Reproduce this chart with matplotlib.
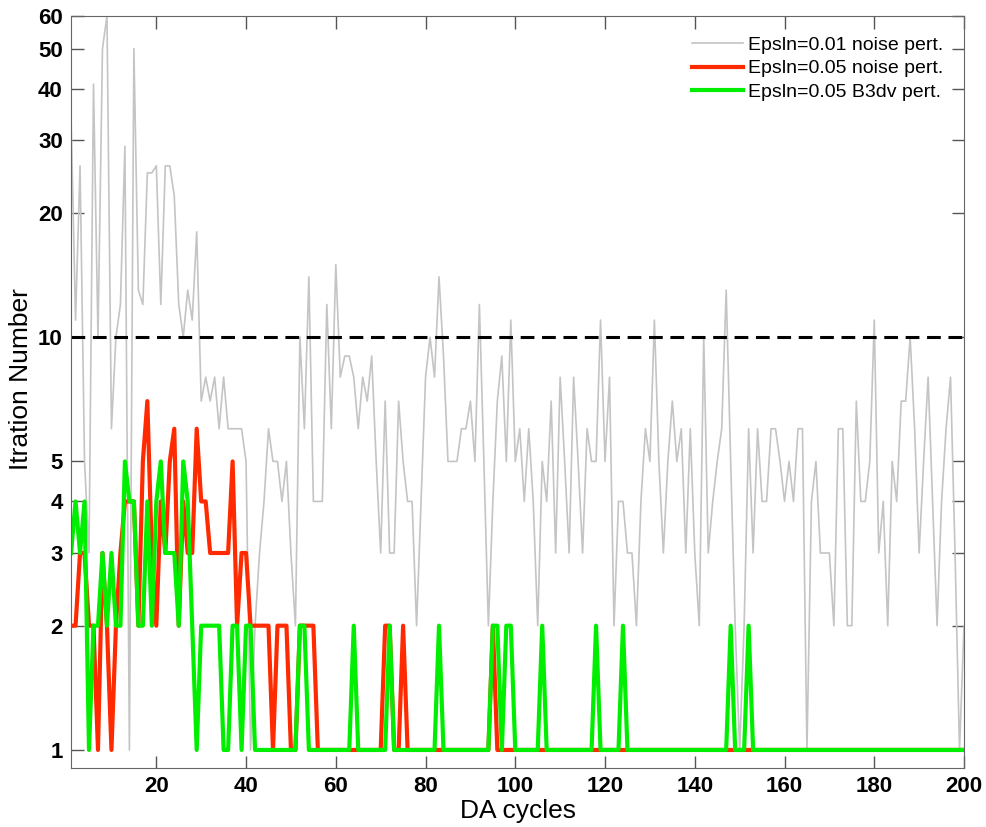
import matplotlib
matplotlib.use('Agg')
import matplotlib.pyplot as plt
import numpy as np

plt.rcParams['font.family'] = ['Liberation Sans', 'DejaVu Sans']

cycles = np.arange(1, 201)

# EpsIn=0.01 noise perturbation (gray)
iters_001_noise = [
    34, 11, 26, 5, 3, 41, 10, 50, 60, 6,
    10, 12, 29, 1, 50, 13, 12, 25, 25, 26,
    12, 26, 26, 22, 12, 10, 13, 11, 18, 7,
    8, 7, 8, 6, 8, 6, 6, 6, 6, 5,
    1, 2, 3, 4, 6, 5, 5, 4, 5, 3,
    2, 10, 6, 14, 4, 4, 4, 12, 6, 15,
    8, 9, 9, 8, 6, 8, 7, 9, 5, 3,
    7, 3, 3, 7, 5, 4, 4, 2, 4, 8,
    10, 8, 14, 9, 5, 5, 5, 6, 6, 7,
    5, 12, 5, 2, 4, 7, 9, 5, 11, 5,
    6, 4, 6, 4, 2, 5, 4, 7, 3, 8,
    5, 3, 8, 5, 3, 6, 5, 5, 11, 5,
    8, 2, 4, 4, 3, 3, 2, 4, 6, 5,
    11, 5, 3, 5, 7, 5, 6, 3, 6, 3,
    2, 10, 3, 4, 5, 6, 13, 5, 2, 1,
    2, 6, 3, 6, 4, 4, 6, 6, 5, 4,
    5, 4, 6, 6, 1, 4, 5, 3, 3, 3,
    2, 6, 6, 2, 2, 7, 4, 4, 5, 11,
    3, 4, 2, 5, 4, 7, 7, 10, 6, 3,
    5, 8, 4, 2, 4, 6, 8, 3, 1, 2,
]

# EpsIn=0.05 noise perturbation (red)
iters_005_noise = [
    2, 2, 3, 3, 2, 2, 1, 3, 2, 1,
    2, 3, 4, 4, 4, 2, 5, 7, 3, 2,
    4, 3, 5, 6, 2, 4, 3, 3, 6, 4,
    4, 3, 3, 3, 3, 3, 5, 2, 3, 3,
    2, 2, 2, 2, 2, 1, 2, 2, 2, 1,
    1, 2, 2, 2, 2, 1, 1, 1, 1, 1,
    1, 1, 1, 1, 1, 1, 1, 1, 1, 1,
    2, 2, 1, 1, 2, 1, 1, 1, 1, 1,
    1, 1, 1, 1, 1, 1, 1, 1, 1, 1,
    1, 1, 1, 1, 2, 1, 1, 1, 1, 1,
] + [1] * 100

# EpsIn=0.05 B3dv perturbation (green)
iters_005_b3dv = [
    3, 4, 3, 4, 1, 2, 2, 3, 2, 3,
    2, 2, 5, 4, 4, 2, 2, 4, 2, 4,
    5, 3, 3, 3, 2, 5, 4, 2, 1, 2,
    2, 2, 2, 2, 1, 1, 2, 2, 1, 2,
    2, 1, 1, 1, 1, 1, 1, 1, 1, 1,
    1, 2, 2, 1, 1, 1, 1, 1, 1, 1,
] + [1] * 140
for c in [64, 72, 83, 95, 96, 98, 99, 106, 118, 124, 148, 152]:
    iters_005_b3dv[c - 1] = 2

yticks = [1, 2, 3, 4, 5, 10, 20, 30, 40, 50, 60]
xticks = [20, 40, 60, 80, 100, 120, 140, 160, 180, 200]

fig = plt.figure(figsize=(9.87, 8.27), dpi=100)
ax = fig.add_axes([0.072, 0.0713, 0.9047, 0.9094])

ax.plot(cycles, iters_001_noise, color='#c4c4c4', lw=1.2, label='Epsln=0.01 noise pert.')
ax.axhline(10, color='black', lw=2.2, ls=(0, (4.5, 2.5)))
ax.plot(cycles, iters_005_noise, color='#ff2a00', lw=3, label='Epsln=0.05 noise pert.')
ax.plot(cycles, iters_005_b3dv, color='#00ee00', lw=3, label='Epsln=0.05 B3dv pert.')

ax.set_yscale('log')
ax.set_xlim(1, 200)
ax.set_ylim(0.904, 60)
ax.set_yticks(yticks)
ax.set_yticklabels([str(v) for v in yticks])
ax.yaxis.set_minor_locator(matplotlib.ticker.NullLocator())
ax.set_xticks(xticks)
ax.tick_params(direction='in', length=9, width=1, color='#555555', top=True, right=True,
               labelsize=16, pad=6)
for lab in ax.get_xticklabels() + ax.get_yticklabels():
    lab.set_fontweight('bold')
for sp in ax.spines.values():
    sp.set_color('#666666')

ax.set_xlabel('DA cycles', fontsize=19, labelpad=1)
ax.set_ylabel('Itration Number', fontsize=19)
ax.yaxis.set_label_coords(-0.043, 0.517)

ax.legend(loc='upper right', frameon=False, fontsize=14, handlelength=2.6,
          handletextpad=0.3, labelspacing=0.3, borderaxespad=0.65)

fig.savefig('out.png', dpi=100)
